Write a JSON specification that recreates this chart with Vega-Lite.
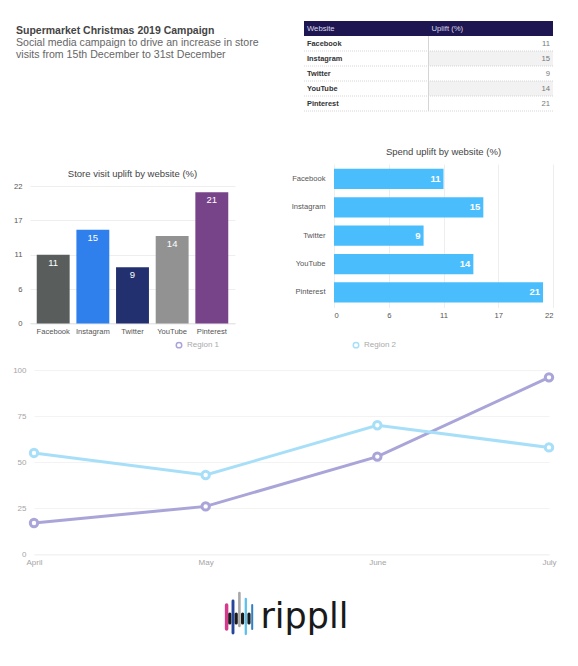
{
  "$schema": "https://vega.github.io/schema/vega-lite/v6.json",
  "background": "#ffffff",
  "padding": {"left": 12, "top": 20, "right": 0, "bottom": 0},
  "config": {
    "font": "Liberation Sans",
    "view": {"stroke": null}
  },
  "datasets": {
    "websites": [
      {"website": "Facebook", "visit": 11, "spend": 11},
      {"website": "Instagram", "visit": 15, "spend": 15},
      {"website": "Twitter", "visit": 9, "spend": 9},
      {"website": "YouTube", "visit": 14, "spend": 14},
      {"website": "Pinterest", "visit": 21, "spend": 21}
    ],
    "table": [
      {"row": "Header", "col": "Website", "text": "Website", "kind": "head"},
      {"row": "Header", "col": "Uplift", "text": "Uplift (%)", "kind": "head"},
      {"row": "Facebook", "col": "Website", "text": "Facebook", "kind": "name"},
      {"row": "Instagram", "col": "Website", "text": "Instagram", "kind": "name"},
      {"row": "Twitter", "col": "Website", "text": "Twitter", "kind": "name"},
      {"row": "YouTube", "col": "Website", "text": "YouTube", "kind": "name"},
      {"row": "Pinterest", "col": "Website", "text": "Pinterest", "kind": "name"},
      {"row": "Facebook", "col": "Uplift", "text": "11", "kind": "value"},
      {"row": "Instagram", "col": "Uplift", "text": "15", "kind": "value"},
      {"row": "Twitter", "col": "Uplift", "text": "9", "kind": "value"},
      {"row": "YouTube", "col": "Uplift", "text": "14", "kind": "value"},
      {"row": "Pinterest", "col": "Uplift", "text": "21", "kind": "value"}
    ],
    "regions": [
      {"month": "April", "region": "Region 1", "value": 17},
      {"month": "May", "region": "Region 1", "value": 26},
      {"month": "June", "region": "Region 1", "value": 53},
      {"month": "July", "region": "Region 1", "value": 96},
      {"month": "April", "region": "Region 2", "value": 55},
      {"month": "May", "region": "Region 2", "value": 43},
      {"month": "June", "region": "Region 2", "value": 70},
      {"month": "July", "region": "Region 2", "value": 58}
    ],
    "logo": [
      {"bar": "b1", "shade": "pink", "low": 12, "high": 36},
      {"bar": "b2", "shade": "black", "low": 18, "high": 27},
      {"bar": "b3", "shade": "navy", "low": 8, "high": 40},
      {"bar": "b4", "shade": "black", "low": 18, "high": 27},
      {"bar": "b5", "shade": "grey", "low": 15, "high": 48},
      {"bar": "b6", "shade": "black", "low": 18, "high": 27},
      {"bar": "b7", "shade": "sky", "low": 7, "high": 42},
      {"bar": "b8", "shade": "black", "low": 18, "high": 27},
      {"bar": "b9", "shade": "blue", "low": 12, "high": 36}
    ]
  },
  "resolve": {"scale": {"color": "independent"}},
  "spacing": 0,
  "vconcat": [
    {
      "spacing": 0,
      "hconcat": [
        {
          "width": 273,
          "height": 90,
          "data": {"values": [
            {"line": "Supermarket Christmas 2019 Campaign", "weight": "bold"},
            {"line": "Social media campaign to drive an increase in store", "weight": "normal"},
            {"line": "visits from 15th December to 31st December", "weight": "normal"}
          ]},
          "encoding": {
            "y": {"field": "line", "type": "nominal", "sort": null, "axis": null, "scale": {"type": "point", "padding": 0, "range": [10, 34]}},
            "x": {"value": 0},
            "text": {"field": "line"}
          },
          "layer": [
            {
              "transform": [{"filter": "datum.weight == 'bold'"}],
              "mark": {"type": "text", "align": "left", "dx": -14, "fontSize": 10.5, "fontWeight": "bold", "color": "#444444"}
            },
            {
              "transform": [{"filter": "datum.weight == 'normal'"}],
              "mark": {"type": "text", "align": "left", "dx": -14, "fontSize": 10.6, "color": "#666666"}
            }
          ]
        },
        {
          "width": 249,
          "height": 90,
          "data": {"name": "table"},
          "encoding": {
            "y": {"field": "row", "type": "nominal", "sort": ["Header", "Facebook", "Instagram", "Twitter", "YouTube", "Pinterest"], "axis": null, "scale": {"paddingInner": 0, "paddingOuter": 0}},
            "x": {"field": "col", "type": "nominal", "sort": ["Website", "Uplift"], "axis": null, "scale": {"paddingInner": 0, "paddingOuter": 0}}
          },
          "layer": [
            {
              "transform": [{"filter": "datum.kind == 'value' && (datum.row == 'Instagram' || datum.row == 'YouTube')"}],
              "mark": {"type": "rect", "color": "#f2f2f2"}
            },
            {
              "transform": [{"filter": "datum.kind == 'value'"}],
              "mark": {"type": "rule", "color": "#cccccc", "strokeDash": [1, 1], "strokeWidth": 0.8},
              "encoding": {"x": {"value": 0}, "x2": {"value": 249}, "y": {"field": "row", "type": "nominal", "sort": ["Header", "Facebook", "Instagram", "Twitter", "YouTube", "Pinterest"], "bandPosition": 1, "axis": null}}
            },
            {
              "transform": [{"filter": "datum.row == 'Facebook' && datum.col == 'Uplift'"}],
              "mark": {"type": "rule", "color": "#d5d5d5", "strokeWidth": 1},
              "encoding": {"x": {"field": "col", "type": "nominal", "sort": ["Website", "Uplift"], "bandPosition": 0, "axis": null}, "y": {"value": 0}, "y2": {"value": 90}}
            },
            {
              "transform": [{"filter": "datum.col == 'Website' && datum.kind == 'head'"}],
              "mark": {"type": "rect", "color": "#1e1650"},
              "encoding": {"x": {"value": 0}, "x2": {"value": 249}}
            },
            {
              "transform": [{"filter": "datum.kind == 'head'"}],
              "mark": {"type": "text", "align": "left", "dx": 3, "fontSize": 7.7, "color": "#d8d6ea"},
              "encoding": {"x": {"field": "col", "type": "nominal", "sort": ["Website", "Uplift"], "bandPosition": 0, "axis": null}, "text": {"field": "text"}}
            },
            {
              "transform": [{"filter": "datum.kind == 'name'"}],
              "mark": {"type": "text", "align": "left", "dx": 3, "fontSize": 7.4, "fontWeight": "bold", "color": "#333333"},
              "encoding": {"x": {"field": "col", "type": "nominal", "sort": ["Website", "Uplift"], "bandPosition": 0, "axis": null}, "text": {"field": "text"}}
            },
            {
              "transform": [{"filter": "datum.kind == 'value'"}],
              "mark": {"type": "text", "align": "right", "dx": -3, "fontSize": 7.7, "color": "#777777"},
              "encoding": {"x": {"field": "col", "type": "nominal", "sort": ["Website", "Uplift"], "bandPosition": 1, "axis": null}, "text": {"field": "text"}}
            }
          ]
        }
      ]
    },
    {"width": 10, "height": 33.5, "data": {"values": []}, "mark": "point"},
    {
      "resolve": {"scale": {"color": "independent"}},
      "spacing": 56,
      "hconcat": [
        {
          "spacing": 0,
          "vconcat": [
            {"width": 10, "height": 4, "data": {"values": []}, "mark": "point"},
            {
              "width": 205,
              "height": 137.4,
              "title": {"text": "Store visit uplift by website (%)", "fontSize": 9.5, "fontWeight": "normal", "color": "#444444", "offset": 4},
              "data": {"name": "websites"},
              "encoding": {
                "x": {"field": "website", "type": "nominal", "sort": null, "title": null, "scale": {"padding": 0.17}, "axis": {"labelAngle": 0, "labelFontSize": 7.6, "labelColor": "#555555", "labelPadding": 4, "ticks": false, "domainColor": "#e2e2e2", "grid": false}},
                "y": {"field": "visit", "type": "quantitative", "title": null, "scale": {"domain": [0, 22]}, "axis": {"values": [0, 5.5, 11, 16.5, 22], "format": ".0f", "labelFontSize": 7.6, "labelColor": "#555555", "labelPadding": 8, "ticks": false, "domain": false, "gridColor": "#eeeeee"}}
              },
              "layer": [
                {
                  "mark": {"type": "bar"},
                  "encoding": {"color": {"field": "website", "type": "nominal", "legend": null, "scale": {"domain": ["Facebook", "Instagram", "Twitter", "YouTube", "Pinterest"], "range": ["#595e5c", "#2f80ed", "#23306f", "#929292", "#784489"]}}}
                },
                {
                  "mark": {"type": "text", "baseline": "top", "dy": 3, "fontSize": 9.5, "color": "#ffffff"},
                  "encoding": {"text": {"field": "visit", "type": "quantitative"}}
                }
              ]
            }
          ]
        },
        {
          "width": 219,
          "height": 143.4,
          "title": {"text": "Spend uplift by website (%)", "fontSize": 9.5, "fontWeight": "normal", "color": "#444444", "offset": 8},
          "data": {"name": "websites"},
          "encoding": {
            "y": {"field": "website", "type": "nominal", "sort": null, "title": null, "scale": {"paddingInner": 0.285, "paddingOuter": 0.17}, "axis": {"labelFontSize": 7.6, "labelColor": "#555555", "labelPadding": 9, "ticks": false, "domain": false, "grid": false}},
            "x": {"field": "spend", "type": "quantitative", "title": null, "scale": {"domain": [0, 22]}, "axis": {"values": [0, 5.5, 11, 16.5, 22], "format": ".0f", "labelFontSize": 7.6, "labelColor": "#555555", "labelPadding": 4, "ticks": false, "domain": false, "gridColor": "#eeeeee"}}
          },
          "layer": [
            {"mark": {"type": "bar", "color": "#4abdfd"}},
            {
              "mark": {"type": "text", "align": "right", "dx": -3, "fontSize": 9.5, "fontWeight": "bold", "color": "#ffffff"},
              "encoding": {"text": {"field": "spend", "type": "quantitative"}}
            }
          ]
        }
      ]
    },
    {"width": 10, "height": 5.6, "data": {"values": []}, "mark": "point"},
    {
      "width": 519,
      "height": 184.3,
      "data": {"name": "regions"},
      "encoding": {
        "x": {"field": "month", "type": "nominal", "sort": null, "title": null, "scale": {"type": "point", "padding": 0, "range": [4, 519]}, "axis": {"labelAngle": 0, "labelFontSize": 8, "labelColor": "#a5a5a5", "labelPadding": 4, "ticks": false, "domainColor": "#e8e8e8", "grid": false}},
        "color": {"field": "region", "type": "nominal", "scale": {"domain": ["Region 1", "Region 2"], "range": ["#a9a5d9", "#a8dff8"]}, "legend": {"title": null, "orient": "none", "legendX": 145, "legendY": -29, "direction": "horizontal", "columns": 2, "columnPadding": 130, "symbolType": "circle", "symbolSize": 30, "symbolStrokeWidth": 1.5, "labelFontSize": 8, "labelColor": "#aaaaaa"}}
      },
      "resolve": {"axis": {"y": "independent"}},
      "layer": [
        {
          "mark": {"type": "line", "strokeWidth": 3},
          "encoding": {
            "y": {"field": "value", "type": "quantitative", "title": null, "scale": {"domain": [0, 100]}, "axis": {"orient": "right", "values": [0, 25, 50, 75, 100], "labels": false, "domain": false, "grid": false, "tickSize": -515, "tickColor": "#f3f3f3"}}
          }
        },
        {
          "mark": {"type": "point", "filled": false, "fill": "#ffffff", "size": 55, "strokeWidth": 3, "opacity": 1},
          "encoding": {
            "y": {"field": "value", "type": "quantitative", "title": null, "scale": {"domain": [0, 100]}, "axis": {"orient": "left", "values": [0, 25, 50, 75, 100], "labelFontSize": 8, "labelColor": "#a5a5a5", "labelPadding": 4, "ticks": false, "domain": false, "grid": false}}
          }
        }
      ]
    },
    {"width": 10, "height": 24, "data": {"values": []}, "mark": "point"},
    {
      "width": 519,
      "height": 50,
      "encoding": {
        "x": {"field": "bar", "type": "nominal", "sort": null, "axis": null, "scale": {"domain": ["b1", "b2", "b3", "b4", "b5", "b6", "b7", "b8", "b9", "word"], "paddingInner": 0, "paddingOuter": 0, "range": [195, 227]}}
      },
      "layer": [
        {
          "data": {"name": "logo"},
          "mark": {"type": "rule", "strokeCap": "round"},
          "encoding": {
            "y": {"field": "low", "type": "quantitative", "axis": null, "scale": {"domain": [0, 50]}},
            "y2": {"field": "high"},
            "color": {"field": "shade", "type": "nominal", "legend": null, "scale": {"domain": ["pink", "black", "navy", "grey", "sky", "blue"], "range": ["#d63a8c", "#1a1a1a", "#24479c", "#a8a8a8", "#5cc0ec", "#2f7fc4"]}},
            "strokeWidth": {"field": "shade", "type": "nominal", "legend": null, "scale": {"domain": ["pink", "black", "navy", "grey", "sky", "blue"], "range": [3.5, 2, 3.5, 3.5, 3.5, 3.5]}}
          }
        },
        {
          "data": {"values": [{"bar": "word", "level": 24, "label": "rippll"}]},
          "mark": {"type": "text", "align": "left", "dx": 5, "fontSize": 35, "font": "DejaVu Sans", "color": "#1a1a1a"},
          "encoding": {
            "y": {"field": "level", "type": "quantitative", "axis": null, "scale": {"domain": [0, 50]}},
            "text": {"field": "label"}
          }
        }
      ]
    }
  ]
}
